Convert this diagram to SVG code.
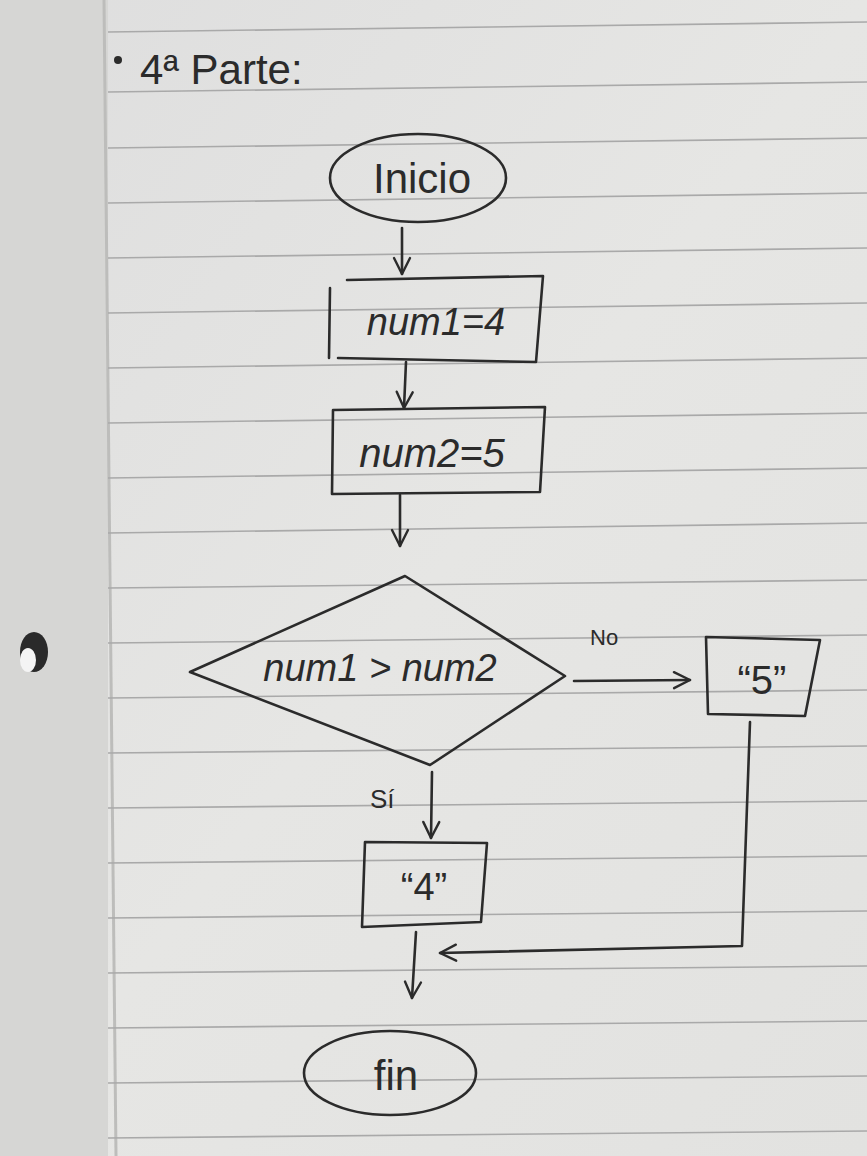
<svg xmlns="http://www.w3.org/2000/svg" width="867" height="1156" viewBox="0 0 867 1156">
<defs>
<style>
.s{fill:none;stroke:#2b2b2b;stroke-width:2.6;stroke-linecap:round;stroke-linejoin:round}
.t{font-family:"Liberation Sans",Arial,sans-serif;fill:#2b2b2b}
.i{font-style:italic}
.rule{stroke:#a9a9a9;stroke-width:1.6}
</style>
<linearGradient id="bg" x1="0" y1="0" x2="1" y2="1">
<stop offset="0" stop-color="#dedede"/>
<stop offset="0.5" stop-color="#e6e6e4"/>
<stop offset="1" stop-color="#e2e2e0"/>
</linearGradient>
<marker id="ah" viewBox="0 0 20 20" refX="18" refY="10" markerWidth="20" markerHeight="20" markerUnits="userSpaceOnUse" orient="auto">
<path d="M2,2 L18,10 L2,18" fill="none" stroke="#2b2b2b" stroke-width="2.4" stroke-linecap="round" stroke-linejoin="round"/>
</marker>
</defs>
<rect width="867" height="1156" fill="url(#bg)"/>
<rect x="0" y="0" width="108" height="1156" fill="#d6d6d4"/>
<line x1="104" y1="0" x2="116" y2="1156" stroke="#bdbdbb" stroke-width="3"/>
<ellipse cx="34" cy="652" rx="14" ry="20" fill="#2a2a2a"/>
<ellipse cx="28" cy="660" rx="8" ry="12" fill="#f4f4f4"/>
<g id="rules">
<line class="rule" x1="108" y1="32" x2="867" y2="22"/>
<line class="rule" x1="108" y1="92" x2="867" y2="82"/>
<line class="rule" x1="108" y1="148" x2="867" y2="138"/>
<line class="rule" x1="108" y1="203" x2="867" y2="193"/>
<line class="rule" x1="108" y1="258" x2="867" y2="248"/>
<line class="rule" x1="108" y1="313" x2="867" y2="303"/>
<line class="rule" x1="108" y1="368" x2="867" y2="358"/>
<line class="rule" x1="108" y1="423" x2="867" y2="413"/>
<line class="rule" x1="108" y1="478" x2="867" y2="468"/>
<line class="rule" x1="108" y1="533" x2="867" y2="523"/>
<line class="rule" x1="108" y1="588" x2="867" y2="580"/>
<line class="rule" x1="108" y1="643" x2="867" y2="635"/>
<line class="rule" x1="108" y1="698" x2="867" y2="690"/>
<line class="rule" x1="108" y1="753" x2="867" y2="746"/>
<line class="rule" x1="108" y1="808" x2="867" y2="801"/>
<line class="rule" x1="108" y1="863" x2="867" y2="856"/>
<line class="rule" x1="108" y1="918" x2="867" y2="911"/>
<line class="rule" x1="108" y1="973" x2="867" y2="966"/>
<line class="rule" x1="108" y1="1028" x2="867" y2="1021"/>
<line class="rule" x1="108" y1="1083" x2="867" y2="1076"/>
<line class="rule" x1="108" y1="1138" x2="867" y2="1131"/>
</g>
<g id="title">
<circle cx="118" cy="60" r="4" fill="#2b2b2b"/>
<text class="t" x="140" y="84" font-size="42">4ª Parte:</text>
</g>
<g id="connectors">
<line class="s" x1="402" y1="228" x2="402" y2="274" marker-end="url(#ah)"/>
<line class="s" x1="406" y1="362" x2="404" y2="408" marker-end="url(#ah)"/>
<line class="s" x1="400" y1="495" x2="400" y2="546" marker-end="url(#ah)"/>
<line class="s" x1="574" y1="681" x2="690" y2="680" marker-end="url(#ah)"/>
<line class="s" x1="432" y1="772" x2="431" y2="838" marker-end="url(#ah)"/>
<polyline class="s" points="750,722 742,946 440,953" marker-end="url(#ah)"/>
<line class="s" x1="416" y1="932" x2="412" y2="998" marker-end="url(#ah)"/>
<text class="t" x="590" y="645" font-size="22">No</text>
<text class="t" x="370" y="808" font-size="26">Sí</text>
</g>
<g id="inicio">
<ellipse class="s" cx="418" cy="178" rx="88" ry="44"/>
<text class="t" x="422" y="193" font-size="42" text-anchor="middle">Inicio</text>
</g>
<g id="num1">
<path class="s" d="M347,280 L543,276 L536,362 L338,358 M330,288 L329,358"/>
<text class="t i" x="436" y="335" font-size="38" text-anchor="middle">num1=4</text>
</g>
<g id="num2">
<path class="s" d="M333,410 L545,407 L540,492 L332,494 Z"/>
<text class="t i" x="432" y="467" font-size="40" text-anchor="middle">num2=5</text>
</g>
<g id="decision">
<path class="s" d="M405,576 L565,676 L430,765 L190,672 Z"/>
<text class="t i" x="380" y="681" font-size="38" text-anchor="middle">num1 &gt; num2</text>
</g>
<g id="out5">
<path class="s" d="M706,637 L820,640 L805,716 L708,714 Z"/>
<text class="t" x="762" y="694" font-size="40" text-anchor="middle">“5”</text>
</g>
<g id="out4">
<path class="s" d="M365,842 L487,843 L481,922 L362,927 Z"/>
<text class="t" x="424" y="900" font-size="38" text-anchor="middle">“4”</text>
</g>
<g id="fin">
<ellipse class="s" cx="390" cy="1073" rx="86" ry="42"/>
<text class="t" x="396" y="1090" font-size="42" text-anchor="middle">fin</text>
</g>
</svg>
